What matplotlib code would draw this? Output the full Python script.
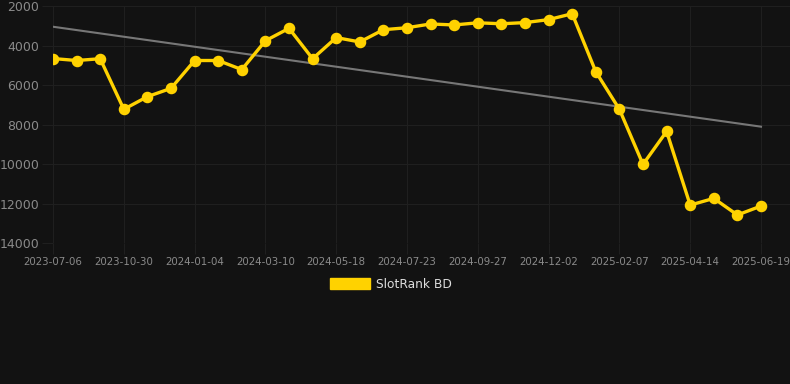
import matplotlib
matplotlib.use("Agg")
import matplotlib.pyplot as plt
from matplotlib.patches import Patch

dates = ["2023-07-06", "2023-08-14", "2023-09-22", "2023-10-30", "2023-11-21",
         "2023-12-13", "2024-01-04", "2024-01-26", "2024-02-17", "2024-03-10",
         "2024-04-02", "2024-04-25", "2024-05-18", "2024-06-08", "2024-07-01",
         "2024-07-23", "2024-08-14", "2024-09-05", "2024-09-27", "2024-10-19",
         "2024-11-10", "2024-12-02", "2024-12-24", "2025-01-16", "2025-02-07",
         "2025-02-28", "2025-03-23", "2025-04-14", "2025-05-06", "2025-05-28",
         "2025-06-19"]
rank = [4660, 4760, 4670, 7230, 6590, 6170, 4760, 4760, 5220, 3760,
        3130, 4670, 3600, 3820, 3200, 3100, 2910, 2960, 2850, 2900,
        2840, 2690, 2390, 5330, 7230, 10020, 8350, 12080, 11740, 12580,
        12130]
trend_idx = [0, 30]
trend_val = [3050, 8110]
yticks = [2000, 4000, 6000, 8000, 10000, 12000, 14000]
series_name = "SlotRank BD"

BG = "#121212"
GRID = "#1f1f1f"
TXT = "#8a8a8a"
GOLD = "#FFD200"

fig = plt.figure(figsize=(7.9, 3.84), dpi=100, facecolor=BG)
ax = fig.add_axes([53/790, 1 - 243/384, 737/790, 237/384])
ax.set_facecolor(BG)

x = list(range(len(dates)))
ax.plot(trend_idx, trend_val, color="#777777", lw=1.5, zorder=2)
ax.plot(x, rank, color=GOLD, lw=2.4, marker="o", ms=7.3, zorder=3)

ax.set_ylim(14000, 2000)
ax.set_xlim(0, 30 * 737 / 708)
ax.set_yticks(yticks)
ax.set_yticklabels([str(v) for v in yticks])
ax.set_xticks(x[::3])
ax.set_xticklabels(dates[::3])

ax.grid(True, color=GRID, lw=0.8)
ax.set_axisbelow(True)
for s in ax.spines.values():
    s.set_visible(False)
ax.tick_params(axis="y", colors=GRID, labelcolor=TXT, labelsize=9, length=8, width=0.8, pad=2)
ax.tick_params(axis="x", colors=GRID, labelcolor=TXT, labelsize=7.4, length=8, width=0.8, pad=2)

leg = fig.legend(handles=[Patch(facecolor=GOLD, edgecolor=GOLD, label=series_name)],
                 loc="center", bbox_to_anchor=(391/790, 1 - 284/384),
                 frameon=False, fontsize=8.8, labelcolor="#dddddd",
                 handlelength=3.3, handleheight=1.0, handletextpad=0.5)

fig.savefig("out.png", dpi=100, facecolor=BG)
